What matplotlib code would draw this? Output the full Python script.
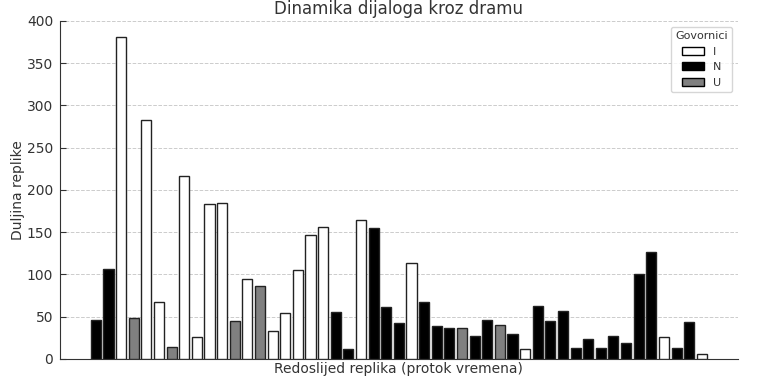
import matplotlib
matplotlib.use("Agg")
import matplotlib.pyplot as plt
from matplotlib.patches import Patch
import numpy as np

# govornik za svaku repliku, redom
speakers = ["N", "N", "I", "U", "I", "I", "U", "I", "I", "I",
            "I", "U", "I", "U", "I", "I", "I", "I", "I", "N",
            "N", "I", "N", "N", "N", "I", "N", "N", "N", "U",
            "N", "N", "U", "N", "I", "N", "N", "N", "N", "N",
            "N", "N", "N", "N", "N", "I", "N", "N", "I"]
# duljina replike
lengths = [46, 107, 381, 49, 283, 67, 14, 217, 26, 183,
           185, 45, 95, 86, 33, 54, 105, 147, 156, 56,
           12, 164, 155, 61, 42, 113, 67, 39, 37, 37,
           27, 46, 40, 29, 12, 63, 45, 57, 13, 23,
           13, 27, 19, 100, 127, 26, 13, 44, 6]

colors = {"I": "white", "N": "black", "U": "gray"}
txt = "#333333"

fig = plt.figure(figsize=(7.7, 3.81), dpi=100)
ax = fig.add_axes([0.078, 0.058, 0.88, 0.887])

x = np.arange(len(lengths))
ax.bar(x, lengths, width=0.8, color=[colors[s] for s in speakers],
       edgecolor="#222222", linewidth=1.0, zorder=3)

ax.set_ylim(0, 400)
ax.set_yticks(np.arange(0, 401, 50))
ax.set_xticks([])
ax.yaxis.grid(True, linestyle="--", color="#cccccc", linewidth=0.7, zorder=0)
ax.spines["top"].set_visible(False)
ax.spines["right"].set_visible(False)
for s in ["left", "bottom"]:
    ax.spines[s].set_color(txt)

ax.set_title("Dinamika dijaloga kroz dramu", fontsize=12, color=txt, pad=5)
ax.set_ylabel("Duljina replike", fontsize=10, color=txt, labelpad=1)
ax.set_xlabel("Redoslijed replika (protok vremena)", fontsize=10, color=txt, labelpad=2)
ax.tick_params(axis="y", labelsize=10, direction="in", length=4, pad=5,
               colors=txt)

handles = [Patch(facecolor=colors[k], edgecolor="black", label=k) for k in ["I", "N", "U"]]
leg = ax.legend(handles=handles, title="Govornici", loc="upper right", fontsize=8,
                title_fontsize=8, frameon=True, labelcolor=txt)
leg.get_title().set_color(txt)

fig.savefig("out.png", dpi=100)
